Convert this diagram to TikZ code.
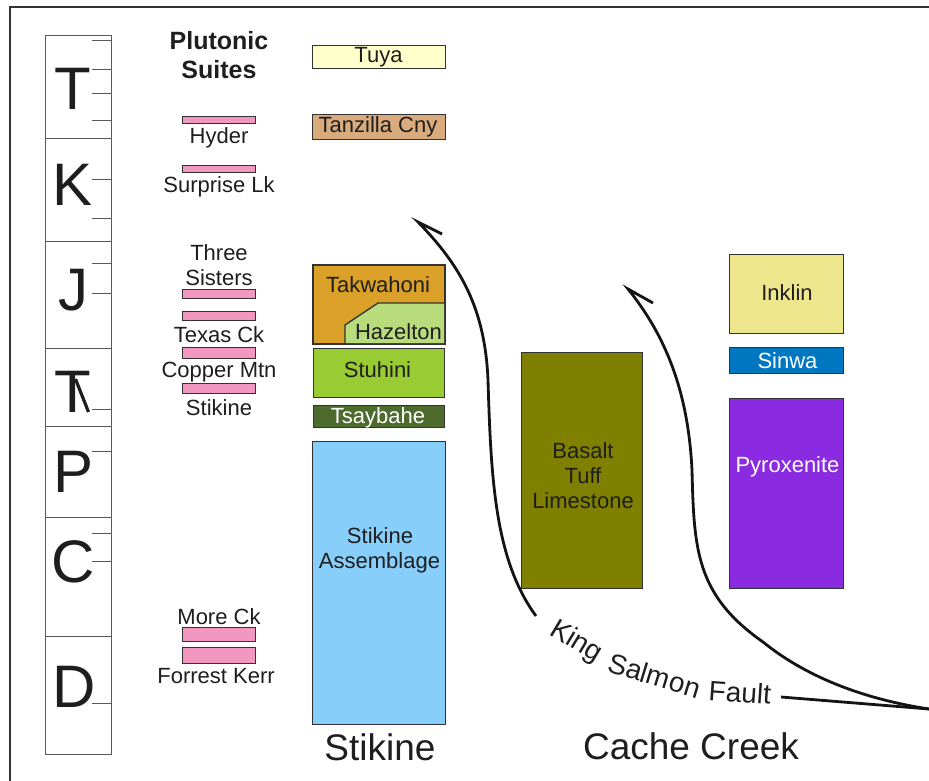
\documentclass[tikz,border=0pt]{standalone}
\usepackage{fontspec}
\setmainfont{Liberation Sans}
\newcommand\myfs[1]{\fontsize{#1}{#1}\selectfont}
\definecolor{pinkc}{RGB}{242,152,192}
\definecolor{tuyac}{RGB}{255,255,204}
\definecolor{tanzc}{RGB}{216,170,124}
\definecolor{takwc}{RGB}{218,160,40}
\definecolor{hazc}{RGB}{184,220,124}
\definecolor{stuhc}{RGB}{153,204,51}
\definecolor{tsayc}{RGB}{78,107,46}
\definecolor{stikc}{RGB}{135,206,250}
\definecolor{basc}{RGB}{128,128,0}
\definecolor{inkc}{RGB}{238,230,140}
\definecolor{sinc}{RGB}{0,119,192}
\definecolor{pyrc}{RGB}{138,43,226}
\definecolor{linec}{RGB}{50,50,50}
\definecolor{txtc}{RGB}{30,30,30}
\begin{document}
\begin{tikzpicture}[x=1pt,y=-1pt,
  unitbox/.style={draw=linec, line width=1.3pt, inner sep=0pt, anchor=north west},
  pbar/.style={draw=linec, line width=1.2pt, fill=pinkc, inner sep=0pt, anchor=north west, minimum width=73pt},
  lab/.style={font=\myfs{22}, text=txtc, anchor=base, inner sep=0pt},
  wlab/.style={font=\myfs{22}, text=white, anchor=base, inner sep=0pt},
  agel/.style={font=\myfs{60}, text=txtc, anchor=base, inner sep=0pt},
  big/.style={font=\myfs{37}, text=txtc, anchor=base, inner sep=0pt},
  kslab/.style={font=\myfs{28}, text=txtc, anchor=base west, inner sep=0pt},
  scaleline/.style={draw=black!65, line width=1pt},
  fault/.style={draw=black!92, line width=2.8pt, line join=miter}
]
\useasboundingbox (0,0) rectangle (929,781);
% frame
\draw[line width=2pt, linec] (10,781) -- (10,7) -- (929,7);

% time scale column
\draw[scaleline] (45,36) rectangle (111,754);
\foreach \yy in {139,241,348,426,517,636} \draw[scaleline] (45,\yy) -- (111,\yy);
\foreach \yy in {41,70,94,121,179,218,263,293,409,451,533,561,703} \draw[scaleline] (92,\yy) -- (111,\yy);
\node[agel] (aT) at (73,110) {T};
\node[agel] (aK) at (73,205) {K};
\node[agel] (aJ) at (73,310) {J};
\node[agel] (aTr) at (73,412) {T};
\draw[line width=3.2pt, txtc] (75.5,379) -- (88.5,412);
\node[agel] (aP) at (74,492) {P};
\node[agel] (aC) at (73,582) {C};
\node[agel] (aD) at (74,707) {D};

% plutonic suites
\node[font=\myfs{25}\bfseries, text=txtc, anchor=base, inner sep=0pt] (plut) at (219,50) {Plutonic};
\node[font=\myfs{25}\bfseries, text=txtc, anchor=base, inner sep=0pt] (suit) at (219,79) {Suites};
\node[pbar, minimum height=7pt] (bhy) at (182,116) {};
\node[lab] (lhy) at (219,144) {Hyder};
\node[pbar, minimum height=7pt] (bsu) at (182,165) {};
\node[lab] (lsu) at (219,193) {Surprise Lk};
\node[lab] (lth) at (219,260) {Three};
\node[lab] (lsi) at (219,285) {Sisters};
\node[pbar, minimum height=9pt] (bts) at (182,289) {};
\node[pbar, minimum height=9pt] (btx) at (182,311) {};
\node[lab] (ltx) at (219,342) {Texas Ck};
\node[pbar, minimum height=11pt] (bcu) at (182,347) {};
\node[lab] (lcu) at (219,377) {Copper Mtn};
\node[pbar, minimum height=10pt] (bst) at (182,383) {};
\node[lab] (lst) at (219,415) {Stikine};
\node[lab] (lmo) at (219,624) {More Ck};
\node[pbar, minimum height=14pt] (bmo) at (182,627) {};
\node[pbar, minimum height=16pt] (bfk) at (182,647) {};
\node[lab] (lfk) at (216,683) {Forrest Kerr};

% Stikine column
\node[unitbox, fill=tuyac, minimum width=133pt, minimum height=23pt] (tuya) at (312,45) {};
\node[lab] (ltuya) at (378.5,63) {Tuya};
\node[unitbox, fill=tanzc, minimum width=133pt, minimum height=25pt] (tanz) at (312,114) {};
\node[lab] (ltanz) at (378,133) {Tanzilla Cny};
\node[unitbox, fill=takwc, minimum width=131pt, minimum height=78pt] (takw) at (313,265) {};
\fill[hazc] (345,343) -- (345,325) -- (378,303) -- (444,303) -- (444,343) -- cycle;
\draw[draw=linec, line width=1.3pt] (345,343) -- (345,325) -- (378,303) -- (444,303);
\draw[draw=linec, line width=1.3pt] (takw.north west) rectangle (takw.south east);
\node[lab] (ltakw) at (378,292) {Takwahoni};
\node[lab] (lhaz) at (398.5,339) {Hazelton};
\node[unitbox, fill=stuhc, minimum width=131pt, minimum height=49pt] (stuh) at (313,348) {};
\node[lab] (lstuh) at (377.5,377) {Stuhini};
\node[unitbox, fill=tsayc, minimum width=131pt, minimum height=22pt] (tsay) at (313,405) {};
\node[wlab] (ltsay) at (378,423) {Tsaybahe};
\node[unitbox, fill=stikc, minimum width=133pt, minimum height=283pt] (stik) at (312,441) {};
\node[lab] (lstik1) at (380,543) {Stikine};
\node[lab] (lstik2) at (379.5,568) {Assemblage};
\node[big] (lstikine) at (380,760) {Stikine};

% Cache Creek
\node[unitbox, fill=basc, minimum width=121pt, minimum height=236pt] (bas) at (521,352) {};
\node[lab] (lbas1) at (583,458) {Basalt};
\node[lab] (lbas2) at (583,483) {Tuff};
\node[lab] (lbas3) at (583,508) {Limestone};
\node[unitbox, fill=inkc, minimum width=114pt, minimum height=79pt] (ink) at (729,254) {};
\node[lab] (link) at (787,300) {Inklin};
\node[unitbox, fill=sinc, minimum width=114pt, minimum height=26pt] (sin) at (729,347) {};
\node[wlab] (lsin) at (787.5,368) {Sinwa};
\node[unitbox, fill=pyrc, minimum width=114pt, minimum height=190pt] (pyr) at (729,398) {};
\node[wlab] (lpyr) at (787.5,472) {Pyroxenite};
\node[big] (lcache) at (691,759) {Cache Creek};

% faults
\coordinate (lbarb) at (442,234);
\coordinate (ltip) at (418,222);
\coordinate (lend) at (536,616);
\coordinate (rbarb) at (653,303);
\coordinate (rtip) at (628,289);
\coordinate (redge) at (929,709);
\coordinate (kstart) at (781,697);
\draw[fault] (lbarb) -- (ltip) .. controls (462,267) and (485,310) .. (488,380)
   .. controls (491,480) and (495,560) .. (lend);
\draw[fault] (rbarb) -- (rtip) .. controls (665,335) and (688,390) .. (692,470)
   .. controls (694,550) and (696,595) .. (763,642)
   .. controls (810,680) and (870,700) .. (redge);
\draw[fault] (kstart) -- (redge);
\node[kslab, rotate=-31] (ks1) at (548,634) {King};
\node[kslab, rotate=-17] (ks2) at (606,671) {Salmon};
\node[kslab, rotate=-4] (ks3) at (708,700) {Fault};
\end{tikzpicture}
\end{document}
